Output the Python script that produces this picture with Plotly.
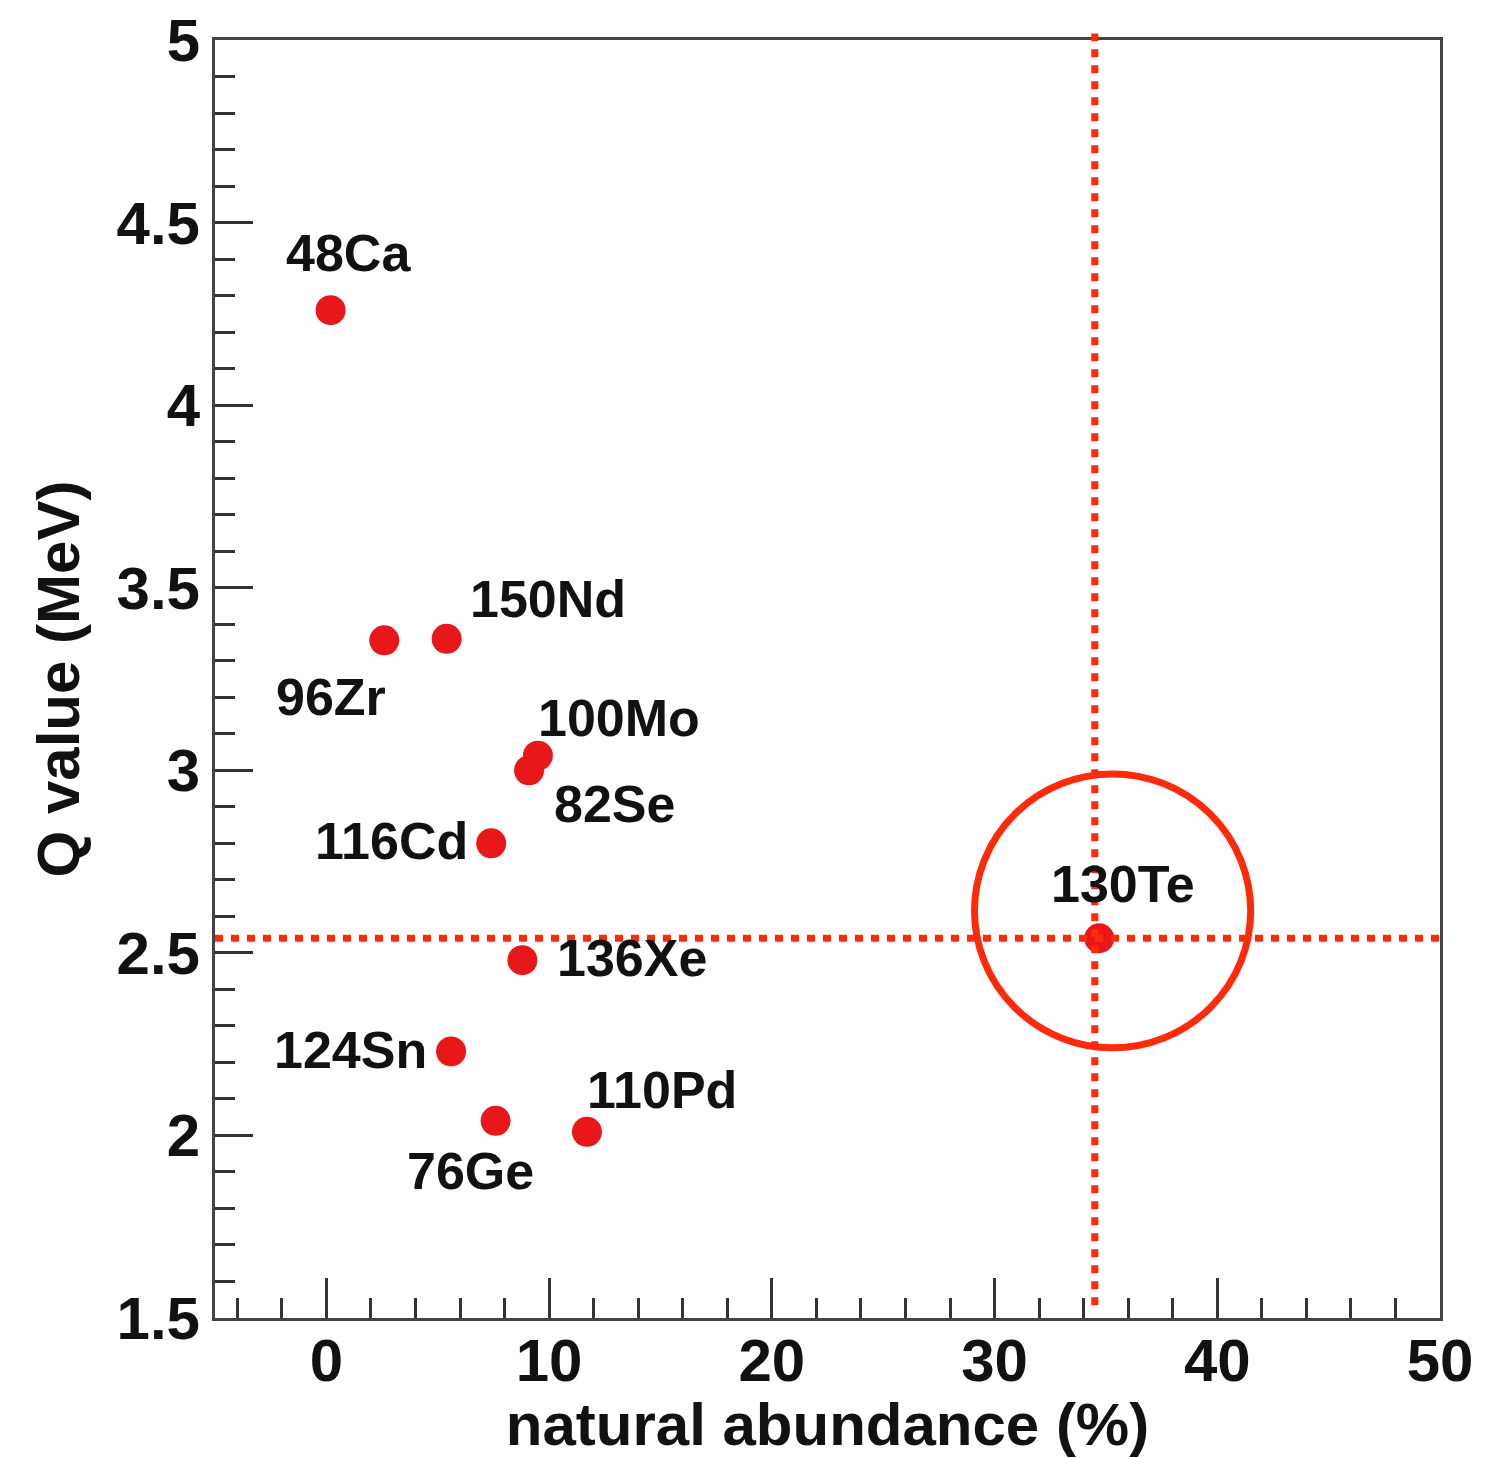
import plotly.graph_objects as go

# Data
isotopes = ["48Ca", "96Zr", "150Nd", "100Mo", "82Se", "116Cd", "136Xe", "124Sn", "110Pd", "76Ge", "130Te"]
abundance = [0.19, 2.6, 5.4, 9.5, 9.1, 7.4, 8.8, 5.6, 11.7, 7.6, 34.7]
q_value = [4.26, 3.356, 3.36, 3.04, 3.0, 2.80, 2.48, 2.23, 2.01, 2.04, 2.54]

# label offsets in pixels (style)
label_dx = [18, -53, 101, 81, 85, -100, 110, -101, 75, -25, 24]
label_dy = [57, -57, 40, 38, -34, 2, 2, 1, 42, -50, 54]

te_line_x = 34.5
te_line_y = 2.54
circle_x = [29.1, 41.5]
circle_y = [2.24, 2.99]

RED = "#ff2a0a"
FONT = "Liberation Sans, Arial, Helvetica, sans-serif"

fig = go.Figure()
fig.add_trace(go.Scatter(
    x=abundance, y=q_value, mode="markers",
    marker=dict(size=30, color="#e8181a", line=dict(width=0)),
    showlegend=False, hoverinfo="skip",
))

for name, x, y, dx, dy in zip(isotopes, abundance, q_value, label_dx, label_dy):
    fig.add_annotation(x=x, y=y, text=name, showarrow=False,
                       xshift=dx, yshift=dy,
                       font=dict(family=FONT, size=52, color="#111111", weight="bold"))

fig.add_shape(type="line", xref="x", yref="paper", x0=te_line_x, x1=te_line_x, y0=0.01, y1=1.005,
              line=dict(color=RED, width=7, dash="8px,8px"))
fig.add_shape(type="line", xref="paper", yref="y", x0=0, x1=1.005, y0=te_line_y, y1=te_line_y,
              line=dict(color=RED, width=7, dash="8px,8px"))
fig.add_shape(type="circle", xref="x", yref="y", x0=circle_x[0], x1=circle_x[1],
              y0=circle_y[0], y1=circle_y[1], line=dict(color=RED, width=7))

axis_common = dict(
    showgrid=False, zeroline=False, showline=True, linecolor="#444444", linewidth=3,
    mirror=True, ticks="inside", tickcolor="#333333", tickwidth=3,
    ticklabeloverflow="allow", automargin=False,
    tickfont=dict(family=FONT, size=60, color="#111111", weight="bold"),
)

fig.update_xaxes(range=[-5, 50], tick0=0, dtick=10, ticklen=40, ticklabelstandoff=-12,
                 minor=dict(dtick=2, tick0=0, ticklen=20, ticks="inside", tickcolor="#333333", tickwidth=3),
                 title=dict(text="natural abundance (%)", standoff=14,
                            font=dict(family=FONT, size=60, color="#111111", weight="bold")),
                 **axis_common)
fig.update_yaxes(range=[1.5, 5], tick0=1.5, dtick=0.5, ticklen=38,
                 minor=dict(dtick=0.1, tick0=1.5, ticklen=20, ticks="inside", tickcolor="#333333", tickwidth=3),
                 title=dict(text="Q value (MeV)", standoff=18,
                            font=dict(family=FONT, size=60, color="#111111", weight="bold")),
                 **axis_common)

fig.update_layout(
    width=1477, height=1450,
    margin=dict(l=207, r=45, t=32, b=140, autoexpand=False),
    plot_bgcolor="white", paper_bgcolor="white",
)

fig.write_html("out.html")
